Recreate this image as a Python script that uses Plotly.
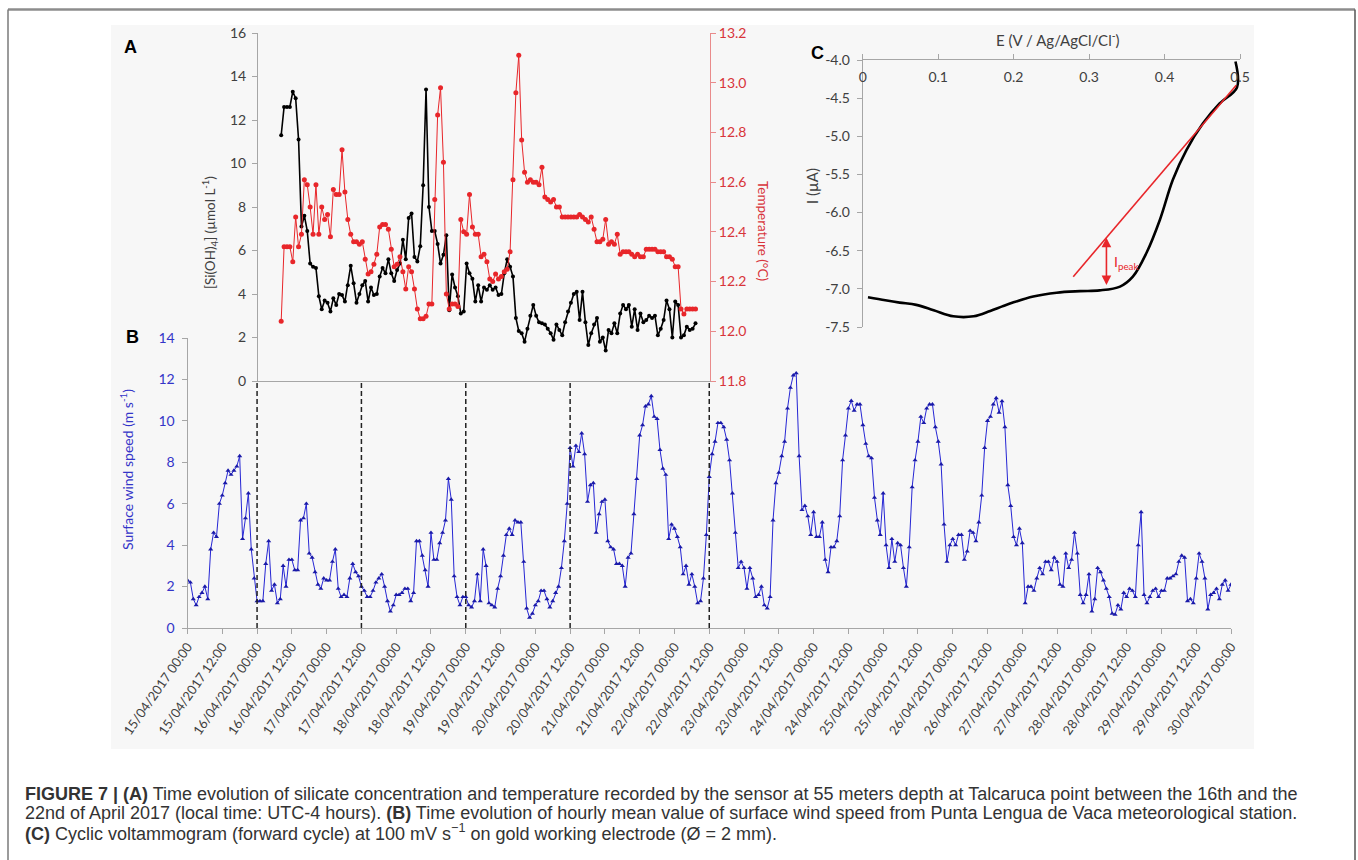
import pandas as pd
import plotly.graph_objects as go

# ---- data ----
# (B) hourly surface wind speed (m/s), starting 15/04/2017 00:00
wind_speed = [
    2.3, 2.2, 1.4, 1.1, 1.5, 1.7, 2.0, 1.4, 3.8, 4.6, 4.4, 6.0, 6.4, 7.0, 7.6, 7.4, 7.6, 7.8, 8.3, 4.3, 5.3, 6.5, 3.8, 2.4,
    1.3, 1.3, 1.3, 3.1, 4.2, 1.8, 2.1, 1.2, 1.4, 3.0, 2.0, 3.3, 3.3, 2.8, 2.8, 5.2, 5.3, 6.0, 3.6, 3.4, 2.7, 2.1, 1.9, 2.4,
    2.3, 2.3, 3.2, 3.8, 1.9, 1.5, 1.6, 1.5, 2.4, 3.1, 2.7, 2.5,
    2.0, 1.8, 1.5, 1.5, 1.8, 2.2, 2.4, 2.6, 2.0, 1.3, 0.8, 1.1, 1.6, 1.6, 1.7, 1.9, 1.9, 1.3, 1.7, 4.2, 4.2, 3.5, 2.8, 2.0,
    4.6, 3.3, 3.3, 4.1, 4.6, 5.2, 7.2, 6.2, 2.5, 1.5, 1.1, 1.5,
    1.5, 1.1, 1.0, 1.3, 2.6, 1.3, 3.8, 3.0, 1.2, 1.1, 1.0, 1.9, 2.5, 3.5, 4.5, 4.8, 4.5, 5.2, 5.1, 5.1, 3.2, 0.95, 0.5, 0.7,
    1.1, 1.3, 1.8, 1.8, 1.4, 1.0, 1.3, 1.7, 2.0, 2.9, 4.2, 6.0,
    8.7, 7.8, 8.8, 8.5, 9.4, 8.4, 6.1, 6.9, 7.0, 4.6, 5.5, 6.1, 6.2, 4.2, 3.9, 3.8, 3.1, 3.1, 3.0, 2.0, 3.4, 3.6, 5.5, 7.2,
    9.3, 9.8, 10.7, 10.8, 11.2, 10.2, 10.1, 8.6, 7.7, 7.4, 4.3, 5.0, 4.8, 4.4, 3.9, 2.6, 3.0, 2.1, 2.6, 2.0, 1.2, 1.3, 2.4, 4.5,
    7.3, 8.4, 9.0, 9.9, 9.9, 9.7, 9.1, 8.1, 6.5, 4.6, 2.9, 3.2, 2.9, 1.9, 2.9, 2.4, 1.5, 1.6, 2.0, 1.1, 0.95, 1.5,
    5.2, 7.0, 7.5, 8.3, 9.0, 10.6, 11.6, 12.2, 12.3, 8.3, 5.7, 5.9, 5.4, 4.5, 5.6, 4.4, 4.4, 5.1, 3.3, 2.7,
    3.9, 3.9, 4.2, 5.4, 8.1, 9.3, 10.6, 10.97, 10.5, 10.8, 10.8, 9.8, 8.9, 8.3, 8.2, 6.3, 5.2, 4.5, 6.5, 4.0,
    2.9, 4.3, 3.2, 4.1, 4.0, 2.9, 2.0, 3.9, 6.8, 8.1, 9.0, 10.2, 9.9, 10.6, 10.8, 10.8, 9.7, 9.0, 7.9, 5.0,
    3.2, 4.0, 4.3, 4.0, 4.5, 4.5, 3.3, 3.7, 4.7, 4.6, 4.2, 5.1, 6.4, 8.7, 10.0, 10.2, 10.8, 11.1, 10.4, 10.95,
    9.7, 6.9, 5.9, 4.4, 4.0, 4.8, 4.1, 1.2, 2.0, 2.0, 1.8, 2.4, 2.9, 2.6, 3.2, 3.2, 2.8, 3.4, 3.2, 2.1,
    2.0, 3.6, 2.9, 3.3, 4.6, 3.6, 1.6, 1.2, 1.6, 2.6, 0.8, 1.4, 2.9, 2.7, 2.3, 1.9, 1.5, 0.7, 0.65, 1.1,
    0.9, 1.7, 1.5, 1.9, 1.8, 1.5, 4.0, 5.6, 1.6, 1.2, 1.5, 1.8, 1.9, 1.5, 1.8, 1.8, 2.4, 2.4, 2.5, 2.6,
    3.2, 3.5, 3.4, 1.3, 1.4, 1.2, 2.4, 3.6, 3.2, 2.4, 0.9, 1.6, 1.7, 1.9, 1.4, 2.1, 2.3, 1.8, 2.1,
]

# (A) hourly silicate (umol/L) and temperature (degC), starting 16/04/2017 08:00
silicate = [
    11.3, 12.6, 12.6, 12.6, 13.3, 13.0, 11.1, 7.1, 7.6, 6.9, 5.4, 5.25, 5.2, 3.9, 3.3, 3.7, 3.6, 3.2, 3.8, 3.5,
    4.0, 3.95, 3.65, 4.4, 5.3, 4.5, 3.6, 4.0, 4.4, 4.6, 3.65, 4.3, 3.95, 4.0, 4.8, 5.2, 4.95, 5.6, 4.95, 4.6,
    5.1, 5.4, 6.5, 5.6, 7.5, 7.7, 5.7, 5.5, 6.2, 9.0, 13.4, 8.0, 6.9, 6.9, 6.3, 5.4, 5.8, 6.7, 3.25, 4.9,
    4.3, 3.9, 3.1, 3.2, 5.4, 4.95, 4.7, 3.65, 4.4, 3.65, 4.3, 4.2, 4.4, 4.2, 4.3, 3.95, 4.0, 4.95, 5.6, 5.25,
    4.8, 2.9, 2.3, 2.2, 1.8, 2.4, 3.0, 3.5, 3.0, 2.7, 2.65, 2.6, 2.4, 2.2, 1.9, 2.6, 2.35, 2.1, 2.7, 3.2,
    3.6, 4.0, 4.1, 2.8, 4.1, 2.7, 1.65, 2.2, 2.6, 2.9, 1.8, 2.0, 1.4, 2.35, 2.2, 2.65, 2.2, 3.1, 3.5, 3.3,
    3.5, 2.5, 3.3, 2.35, 3.1, 2.7, 2.8, 3.0, 2.9, 3.0, 2.1, 2.4, 2.8, 3.7, 3.3, 2.0, 3.65, 3.5, 2.0, 2.1,
    2.5, 2.35, 2.4, 2.65,
]
temperature = [
    12.04, 12.34, 12.34, 12.34, 12.28, 12.46, 12.34, 12.39, 12.61, 12.59, 12.50, 12.39, 12.59, 12.39, 12.50,
    12.45, 12.47, 12.38, 12.57, 12.55, 12.55, 12.73, 12.56, 12.45, 12.39, 12.36, 12.36, 12.35, 12.36, 12.29,
    12.23, 12.24, 12.27, 12.31, 12.42, 12.43, 12.43, 12.41, 12.33, 12.26, 12.27, 12.30, 12.24, 12.17, 12.26,
    12.24, 12.17, 12.09, 12.05, 12.05, 12.06, 12.11, 12.11, 12.53, 12.87, 12.98, 12.68, 12.15, 12.09, 12.11,
    12.11, 12.10, 12.45, 12.40, 12.39, 12.55, 12.42, 12.39, 12.39, 12.30, 12.31, 12.28, 12.21, 12.20, 12.23,
    12.21, 12.22, 12.24, 12.25, 12.32, 12.61, 12.96, 13.11, 12.77, 12.64, 12.60, 12.61, 12.60, 12.60, 12.59,
    12.66, 12.54, 12.53, 12.52, 12.53, 12.50, 12.50, 12.46, 12.46, 12.46, 12.46, 12.46, 12.46, 12.47, 12.46,
    12.45, 12.44, 12.46, 12.41, 12.36, 12.36, 12.37, 12.45, 12.35, 12.36, 12.35, 12.39, 12.31, 12.32, 12.32,
    12.32, 12.31, 12.30, 12.31, 12.30, 12.30, 12.33, 12.33, 12.33, 12.33, 12.32, 12.32, 12.32, 12.30, 12.30,
    12.29, 12.26, 12.26, 12.09, 12.07, 12.09, 12.09, 12.09, 12.09,
]

# (C) forward cycle of the voltammogram
cv_potential = [0.007, 0.03, 0.049, 0.071, 0.094, 0.12, 0.147, 0.169, 0.185, 0.199, 0.226, 0.257,
                0.288, 0.314, 0.341, 0.358, 0.376, 0.394, 0.411, 0.429, 0.451, 0.473, 0.496, 0.494]
cv_current = [-7.11, -7.15, -7.18, -7.21, -7.28, -7.36, -7.36, -7.29, -7.23, -7.18, -7.10, -7.05,
              -7.03, -7.02, -6.97, -6.84, -6.53, -6.09, -5.57, -5.18, -4.83, -4.57, -4.36, -4.02]
tangent_potential = [0.279, 0.495]
tangent_current = [-6.84, -4.33]
peak_potential = 0.323
peak_top = -6.31
peak_bottom = -6.95

cv_ticks = [-7.5, -7.0, -6.5, -6.0, -5.5, -5.0, -4.5, -4.0]
cv_ticktext = ['-7.5', '-7.0', '-6.5', '-6.0', '-5.5', '-5.0', '-4.5', '-4.0']
sensor_marks = ['2017-04-16 00:00', '2017-04-17 12:00', '2017-04-19 00:00', '2017-04-20 12:00', '2017-04-22 12:00']

wind_time = pd.date_range('2017-04-15 00:00', periods=len(wind_speed), freq='h')
sensor_time = pd.date_range('2017-04-16 08:00', periods=len(silicate), freq='h')

W, H = 1358, 860
def px(x):
    return x / W
def py(y):
    return 1 - y / H

GRAY = '#a6a6a6'
DARK = '#404040'
BLUE = '#2626d4'
RED = '#e8262a'
FONT = 'Lato, sans-serif'

fig = go.Figure()

# panel B
fig.add_trace(go.Scatter(x=wind_time, y=wind_speed, mode='lines+markers',
                         line=dict(color=BLUE, width=1),
                         marker=dict(symbol='triangle-up', size=4.5, color='#1a1aa8'),
                         xaxis='x', yaxis='y'))
# panel A
fig.add_trace(go.Scatter(x=sensor_time, y=silicate, mode='lines+markers',
                         line=dict(color='black', width=1.6),
                         marker=dict(size=4, color='black'),
                         xaxis='x2', yaxis='y2'))
fig.add_trace(go.Scatter(x=sensor_time, y=temperature, mode='lines+markers',
                         line=dict(color=RED, width=1),
                         marker=dict(size=5, color=RED),
                         xaxis='x2', yaxis='y3'))
# panel C
fig.add_trace(go.Scatter(x=cv_potential, y=cv_current, mode='lines',
                         line=dict(color='black', width=2.6, shape='spline'),
                         xaxis='x4', yaxis='y4'))
fig.add_trace(go.Scatter(x=tangent_potential, y=tangent_current, mode='lines',
                         line=dict(color=RED, width=1.6),
                         xaxis='x4', yaxis='y4'))

axis_common = dict(showgrid=False, zeroline=False, showline=True, linecolor=GRAY,
                   ticks='outside', tickcolor=GRAY, ticklen=5, automargin=False)

fig.update_layout(
    width=W, height=H, margin=dict(l=0, r=0, t=0, b=0, autoexpand=False),
    paper_bgcolor='white', plot_bgcolor='rgba(0,0,0,0)', showlegend=False,
    font=dict(family=FONT, size=14, color=DARK),
    xaxis=dict(domain=[px(187.5), px(1231)], anchor='y', type='date',
               range=['2017-04-15 00:00', '2017-04-30 00:00'],
               tick0='2017-04-15 00:00', dtick=43200000, tickformat='%d/%m/%Y %H:%M',
               tickangle=-55, tickfont=dict(size=13, color=DARK), **axis_common),
    yaxis=dict(domain=[py(628), py(338)], anchor='x', range=[0, 14], dtick=2,
               tickfont=dict(size=14, color='#3434c8'), ticklabelstandoff=4, **axis_common),
    xaxis2=dict(domain=[px(258), px(710)], anchor='y2', type='date',
                range=['2017-04-16 00:00', '2017-04-22 12:00'],
                showticklabels=False, showgrid=False, zeroline=False, automargin=False,
                showline=True, linecolor=GRAY, ticks=''),
    yaxis2=dict(domain=[py(381), py(33)], anchor='x2', range=[0, 16], dtick=2,
                tickfont=dict(size=14, color=DARK), ticklabelstandoff=3, **axis_common),
    yaxis3=dict(overlaying='y2', side='right', anchor='x2', range=[11.8, 13.2], dtick=0.2,
                tickformat='.1f', showgrid=False, zeroline=False, showline=True, automargin=False,
                linecolor='#e98b8b', ticks='outside', tickcolor='#e98b8b', ticklen=5,
                tickfont=dict(size=14, color='#d8343a')),
    xaxis4=dict(domain=[px(862.7), px(1240)], anchor='y4', side='top', range=[0, 0.5],
                dtick=0.1, ticklabelposition='inside', ticklabeloverflow='allow',
                ticklabelstandoff=12,
                tickfont=dict(size=14, color=DARK), **axis_common),
    yaxis4=dict(domain=[py(327), py(60)], anchor='x4', range=[-7.5, -4.0],
                tickvals=cv_ticks, ticktext=cv_ticktext, ticklabelstandoff=4,
                tickfont=dict(size=14, color=DARK), **axis_common),
)

# background panel and page frame
shapes = [
    dict(type='rect', xref='paper', yref='paper', x0=px(111), x1=px(1254), y0=py(749), y1=py(25),
         fillcolor='#f7f7f7', line=dict(width=0), layer='below'),
    dict(type='line', xref='paper', yref='paper', x0=px(8), x1=px(1355), y0=py(9.5), y1=py(9.5),
         line=dict(color='#8c8c8c', width=2.5)),
    dict(type='line', xref='paper', yref='paper', x0=px(8), x1=px(8), y0=0, y1=py(9.5),
         line=dict(color='#7a7a7a', width=1.5)),
    dict(type='line', xref='paper', yref='paper', x0=px(1355), x1=px(1355), y0=0, y1=py(9.5),
         line=dict(color='#555555', width=1.5)),
]
# dashed lines tying panel A to the wind record
for t in sensor_marks:
    shapes.append(dict(type='line', xref='x', yref='paper', x0=t, x1=t, y0=py(628), y1=py(382),
                       line=dict(color='#222222', width=1.5, dash='5px,3px')))
fig.update_layout(shapes=shapes)

letter_font = dict(family='Liberation Sans, Arial, sans-serif', size=18, color='black')
annotations = [
    dict(text='<b>A</b>', x=px(130), y=py(47), font=letter_font),
    dict(text='<b>B</b>', x=px(132), y=py(337), font=letter_font),
    dict(text='<b>C</b>', x=px(817), y=py(53), font=letter_font),
    dict(text='[Si(OH)<sub>4</sub>] (µmol L<sup>-1</sup>)', x=px(210), y=py(233), textangle=-90,
         font=dict(size=13.5, color=DARK)),
    dict(text='Temperature (°C)', x=px(763), y=py(231), textangle=90,
         font=dict(size=13.5, color='#d8343a')),
    dict(text='Surface wind speed (m s<sup>-1</sup>)', x=px(126), y=py(470), textangle=-90,
         font=dict(size=14, color='#3434c8')),
    dict(text='E (V / Ag/AgCl/Cl<sup>-</sup>)', x=px(1058), y=py(40),
         font=dict(size=15, color=DARK)),
    dict(text='I (µA)', x=px(812), y=py(186), textangle=-90,
         font=dict(size=15, color=DARK)),
]
for a in annotations:
    a.update(xref='paper', yref='paper', xanchor='center', yanchor='middle', showarrow=False)

annotations += [
    dict(text='I<sub>peak</sub>', x=0.331, y=-6.66, xref='x4', yref='y4',
         xanchor='left', yanchor='middle', showarrow=False, font=dict(size=14, color=RED)),
    dict(text='', x=peak_potential, y=peak_bottom, ax=peak_potential, ay=peak_top,
         xref='x4', yref='y4', axref='x4', ayref='y4', showarrow=True,
         arrowhead=2, startarrowhead=2, arrowside='end+start', arrowsize=1.2,
         arrowwidth=1.6, arrowcolor=RED),
]

caption_font = dict(family='Liberation Sans, Arial, sans-serif', size=18, color='#333333')
caption = [
    '<b>FIGURE 7 | (A)</b> Time evolution of silicate concentration and temperature recorded by the sensor '
    'at 55 meters depth at Talcaruca point between the 16th and the',
    '22nd of April 2017 (local time: UTC-4 hours). <b>(B)</b> Time evolution of hourly mean value of '
    'surface wind speed from Punta Lengua de Vaca meteorological station.',
    '<b>(C)</b> Cyclic voltammogram (forward cycle) at 100 mV s<sup>−1</sup> on gold working electrode '
    '(Ø = 2 mm).',
]
for line, ypos in zip(caption, [794, 813, 832]):
    annotations.append(dict(text=line, x=px(23), y=py(ypos), xref='paper', yref='paper',
                            xanchor='left', yanchor='middle', showarrow=False, font=caption_font))

fig.update_layout(annotations=annotations)

fig.write_html('out.html', config={'displayModeBar': False},
               post_script="document.body.style.margin = '0';")
